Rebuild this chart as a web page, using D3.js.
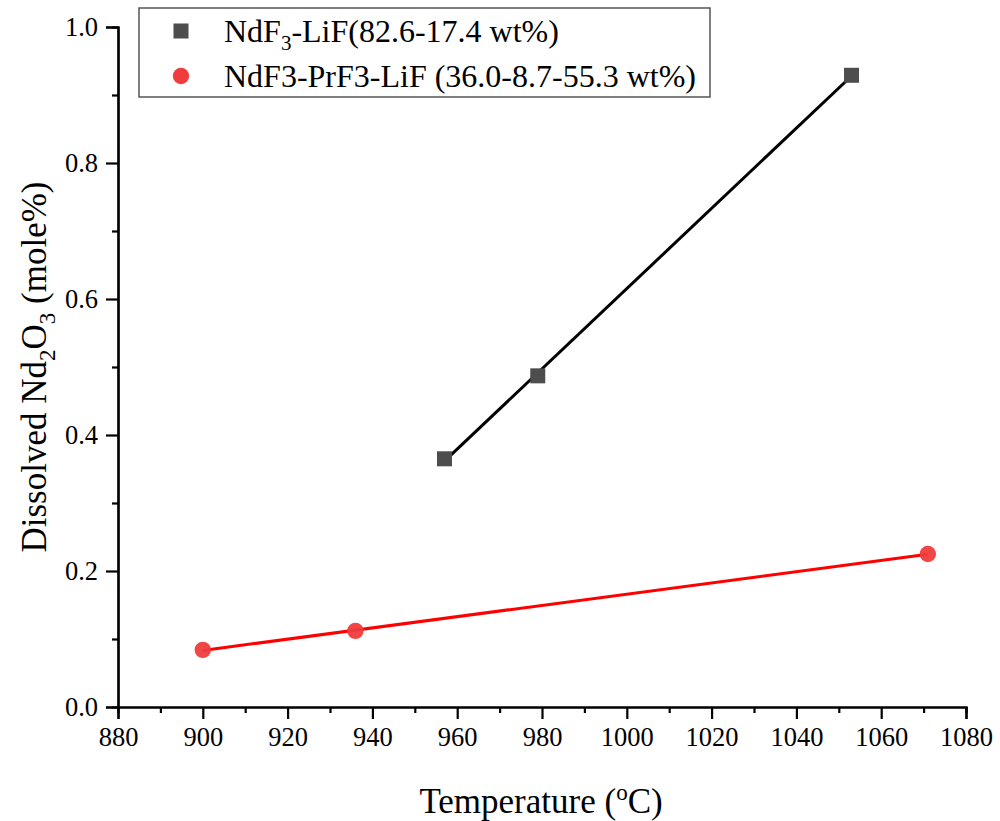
<!DOCTYPE html>
<html>
<head>
<meta charset="utf-8">
<script src="https://cdn.jsdelivr.net/npm/d3@7"></script>
<style>
  html, body { margin: 0; padding: 0; background: #fff; }
  svg text { font-family: "Liberation Serif", "Times New Roman", serif; fill: #000; }
</style>
</head>
<body>
<svg id="chart" width="1000" height="821"></svg>
<script>
// Solubility of Nd2O3 in fluoride melts vs temperature
const ndLifTemp = [957, 979, 1053];
const ndLifValue = [0.365, 0.487, 0.929];
const ndPrLifTemp = [900, 936, 1071];
const ndPrLifValue = [0.084, 0.112, 0.225];

const xTicks = [880, 900, 920, 940, 960, 980, 1000, 1020, 1040, 1060, 1080];
const yTicks = [0.0, 0.2, 0.4, 0.6, 0.8, 1.0];

const svg = d3.select("#chart");
const x = d3.scaleLinear().domain([880, 1080]).range([118, 966]);
const y = d3.scaleLinear().domain([0, 1]).range([707, 27]);

// least-squares line over a series, drawn across its own x-range
function fit(xs, ys) {
  const n = xs.length;
  const mx = d3.mean(xs), my = d3.mean(ys);
  let sxy = 0, sxx = 0;
  for (let i = 0; i < n; i++) { sxy += (xs[i] - mx) * (ys[i] - my); sxx += (xs[i] - mx) ** 2; }
  const b = sxy / sxx, a = my - b * mx;
  const x0 = d3.min(xs), x1 = d3.max(xs);
  return [[x0, a + b * x0], [x1, a + b * x1]];
}

// axes
const xAxis = d3.axisBottom(x).tickValues(xTicks).tickSize(12).tickPadding(8).tickFormat(d3.format("d"));
const xMinor = d3.axisBottom(x).tickValues(d3.range(890, 1080, 20)).tickSize(6).tickFormat("");
const yAxis = d3.axisLeft(y).tickValues(yTicks).tickSize(12).tickPadding(8).tickFormat(d3.format(".1f"));
const yMinor = d3.axisLeft(y).tickValues(d3.range(0.1, 1.0, 0.2)).tickSize(6).tickFormat("");

function styleAxis(g) {
  g.attr("font-family", "Liberation Serif, serif");
  g.selectAll("path").attr("stroke", "#000").attr("stroke-width", 2.2);
  g.selectAll("line").attr("stroke", "#000").attr("stroke-width", 2.2);
  g.selectAll("text").style("font-size", "26.5px").attr("fill", "#000");
}

svg.append("g").attr("transform", "translate(0,707)").call(xMinor).call(styleAxis);
svg.append("g").attr("transform", "translate(0,707)").call(xAxis).call(styleAxis);
svg.append("g").attr("transform", "translate(118,0)").call(yMinor).call(styleAxis);
svg.append("g").attr("transform", "translate(118,0)").call(yAxis).call(styleAxis);

// fit lines
const line = d3.line().x(d => x(d[0])).y(d => y(d[1]));
svg.append("path").attr("d", line(fit(ndLifTemp, ndLifValue)))
  .attr("fill", "none").attr("stroke", "#000").attr("stroke-width", 3);
svg.append("path").attr("d", line(fit(ndPrLifTemp, ndPrLifValue)))
  .attr("fill", "none").attr("stroke", "#ff0000").attr("stroke-width", 3);

// markers
const sq = 15;
svg.append("g").selectAll("rect").data(d3.zip(ndLifTemp, ndLifValue)).join("rect")
  .attr("x", d => x(d[0]) - sq / 2).attr("y", d => y(d[1]) - sq / 2)
  .attr("width", sq).attr("height", sq).attr("fill", "#4d4d4d");
svg.append("g").selectAll("circle").data(d3.zip(ndPrLifTemp, ndPrLifValue)).join("circle")
  .attr("cx", d => x(d[0])).attr("cy", d => y(d[1])).attr("r", 8.2)
  .attr("fill", "#f03c3c").attr("fill-opacity", 0.95);

// legend
const lg = svg.append("g");
lg.append("rect").attr("x", 139).attr("y", 8).attr("width", 571).attr("height", 89)
  .attr("fill", "#fff").attr("stroke", "#555").attr("stroke-width", 1.5);
lg.append("rect").attr("x", 181 - sq / 2).attr("y", 31 - sq / 2).attr("width", sq).attr("height", sq).attr("fill", "#4d4d4d");
lg.append("circle").attr("cx", 181).attr("cy", 76).attr("r", 8.2).attr("fill", "#f03c3c");
const t1 = lg.append("text").attr("x", 224).attr("y", 42).style("font-size", "32px");
t1.append("tspan").text("NdF");
t1.append("tspan").attr("dy", 8).style("font-size", "21px").text("3");
t1.append("tspan").attr("dy", -8).text("-LiF(82.6-17.4 wt%)");
lg.append("text").attr("x", 224).attr("y", 87).style("font-size", "32px")
  .text("NdF3-PrF3-LiF (36.0-8.7-55.3 wt%)");

// axis titles
const xt = svg.append("text").attr("x", 541).attr("y", 813).attr("text-anchor", "middle").style("font-size", "35px");
xt.append("tspan").text("Temperature (");
xt.append("tspan").attr("dy", -13).style("font-size", "23px").text("o");
xt.append("tspan").attr("dy", 13).text("C)");

const yt = svg.append("text").attr("transform", "translate(46,367) rotate(-90)")
  .attr("text-anchor", "middle").style("font-size", "35px");
yt.append("tspan").text("Dissolved Nd");
yt.append("tspan").attr("dy", 9).style("font-size", "23px").text("2");
yt.append("tspan").attr("dy", -9).text("O");
yt.append("tspan").attr("dy", 9).style("font-size", "23px").text("3");
yt.append("tspan").attr("dy", -9).text(" (mole%)");
</script>
</body>
</html>
